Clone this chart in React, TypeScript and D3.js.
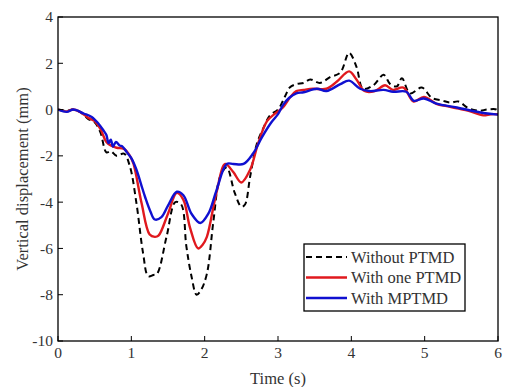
import * as d3 from 'd3';

// time (s) / vertical displacement (mm)
const tWithout = [0, 0.12, 0.2, 0.3, 0.41, 0.5, 0.58, 0.66, 0.72, 0.8, 0.9, 0.98, 1.07, 1.16, 1.23, 1.3, 1.35, 1.48, 1.6, 1.68, 1.75, 1.82, 1.89, 1.95, 2.03, 2.12, 2.21, 2.3, 2.41, 2.5, 2.55, 2.62, 2.71, 2.8, 2.89, 3.0, 3.1, 3.16, 3.25, 3.35, 3.44, 3.57, 3.71, 3.85, 3.97, 4.07, 4.16, 4.3, 4.44, 4.53, 4.62, 4.69, 4.8, 4.96, 5.1, 5.23, 5.35, 5.46, 5.6, 5.75, 5.85, 5.98, 6];
const vWithout = [0, -0.05, 0.0, -0.1, -0.4, -0.55, -1.0, -1.85, -1.8, -2.0, -1.9, -2.45, -4.05, -6.2, -7.2, -7.15, -7.1, -5.5, -4.0, -4.1, -5.9, -7.2, -8.0, -7.8, -7.1, -4.8, -2.9, -2.5, -3.6, -4.2, -4.1, -2.9, -1.5, -0.8, -0.25, 0.0, 0.6, 0.95, 1.1, 1.15, 1.3, 1.15, 1.4, 1.6, 2.45, 1.85, 0.9, 1.05, 1.5, 1.1, 1.0, 1.35, 0.7, 0.95, 0.5, 0.4, 0.3, 0.35, 0.05, -0.05, 0.0, 0.0, -0.1];

const tOne = [0, 0.12, 0.2, 0.3, 0.41, 0.5, 0.58, 0.66, 0.72, 0.8, 0.9, 0.98, 1.03, 1.14, 1.25, 1.32, 1.37, 1.5, 1.62, 1.71, 1.8, 1.91, 1.97, 2.03, 2.16, 2.28, 2.39, 2.5, 2.62, 2.73, 2.85, 2.95, 3.07, 3.17, 3.25, 3.35, 3.48, 3.66, 3.8, 3.97, 4.07, 4.18, 4.32, 4.46, 4.57, 4.71, 4.85, 4.99, 5.16, 5.3, 5.44, 5.6, 5.8, 5.9, 6];
const vOne = [0, -0.08, 0.0, -0.1, -0.35, -0.5, -0.85, -1.4, -1.55, -1.65, -1.7, -2.0, -2.35, -4.05, -5.4, -5.5, -5.45, -4.5, -3.6, -3.9, -5.1, -6.0, -5.85, -5.5, -3.6, -2.35, -2.7, -3.15, -2.6, -1.45, -0.5, -0.2, 0.1, 0.55, 0.8, 0.85, 0.9, 0.9, 1.2, 1.65, 1.3, 0.8, 0.8, 1.05, 0.85, 0.95, 0.35, 0.55, 0.25, 0.15, 0.05, -0.05, -0.25, -0.2, -0.2];

const tMulti = [0, 0.12, 0.21, 0.35, 0.46, 0.55, 0.62, 0.66, 0.69, 0.72, 0.75, 0.79, 0.84, 0.88, 0.94, 1.0, 1.07, 1.13, 1.19, 1.26, 1.32, 1.41, 1.5, 1.62, 1.71, 1.82, 1.94, 2.05, 2.16, 2.3, 2.39, 2.53, 2.66, 2.78, 2.91, 3.0, 3.07, 3.15, 3.25, 3.35, 3.53, 3.66, 3.85, 3.97, 4.12, 4.25, 4.44, 4.57, 4.75, 4.85, 4.99, 5.16, 5.44, 5.8, 6];
const vMulti = [0, -0.1, 0.0, -0.17, -0.32, -0.6, -0.9, -1.1, -1.45, -1.3, -1.6, -1.4, -1.55, -1.6, -1.85, -2.1, -2.6, -3.2, -3.8, -4.4, -4.75, -4.65, -4.15, -3.55, -3.7, -4.5, -4.9, -4.5, -3.5, -2.35, -2.35, -2.35, -1.9, -1.2, -0.55, -0.2, 0.2, 0.5, 0.7, 0.75, 0.9, 0.8, 1.1, 1.25, 0.9, 0.8, 0.85, 0.77, 0.77, 0.38, 0.48, 0.26, 0.09, -0.15, -0.22];

const xTicks = [0, 1, 2, 3, 4, 5, 6];
const yTicks = [4, 2, 0, -2, -4, -6, -8, -10];
const legendLabels = ['Without PTMD', 'With one PTMD', 'With MPTMD'];

const W = 505;
const H = 387;
const margin = { top: 17, right: 7, bottom: 46, left: 58 };
const font = "'Liberation Serif', 'Times New Roman', serif";

export default function App() {
  const innerW = W - margin.left - margin.right;
  const innerH = H - margin.top - margin.bottom;
  const x = d3.scaleLinear().domain([0, 6]).range([0, innerW]);
  const y = d3.scaleLinear().domain([-10, 4]).range([innerH, 0]);

  const line = d3
    .line<[number, number]>()
    .x((d) => x(d[0]))
    .y((d) => y(d[1]))
    .curve(d3.curveCatmullRom.alpha(0.5));

  const series = [
    { t: tWithout, v: vWithout, color: '#000', width: 2, dash: '6,4' },
    { t: tOne, v: vOne, color: '#e0191e', width: 2.4, dash: null },
    { t: tMulti, v: vMulti, color: '#1010d0', width: 2.4, dash: null },
  ];

  const legX = 304 - margin.left;
  const legY = 244 - margin.top;

  return (
    <svg
      width={W}
      height={H}
      style={{ position: 'absolute', left: 0, top: 0, background: '#fff', fontFamily: font }}
    >
      <defs>
        <clipPath id="plot-clip">
          <rect x={0} y={0} width={innerW} height={innerH} />
        </clipPath>
      </defs>
      <g transform={`translate(${margin.left},${margin.top})`}>
        <g clipPath="url(#plot-clip)">
          {series.map((s, i) => (
            <path
              key={i}
              d={line(s.t.map((t, j) => [t, s.v[j]] as [number, number])) || ''}
              fill="none"
              stroke={s.color}
              strokeWidth={s.width}
              strokeDasharray={s.dash || undefined}
              strokeLinejoin="round"
            />
          ))}
        </g>
        <rect x={0} y={0} width={innerW} height={innerH} fill="none" stroke="#000" strokeWidth={1.3} />
        {xTicks.map((t) => (
          <g key={t} transform={`translate(${x(t)},${innerH})`}>
            <line y2={-5} stroke="#000" />
            <text y={17} textAnchor="middle" fontSize={15.5} fill="#333">
              {t}
            </text>
          </g>
        ))}
        {yTicks.map((t) => (
          <g key={t} transform={`translate(0,${y(t)})`}>
            <line x2={5} stroke="#000" />
            <text x={-5} dy="0.35em" textAnchor="end" fontSize={15.5} fill="#333">
              {t}
            </text>
          </g>
        ))}
        <g transform={`translate(${legX},${legY})`}>
          <rect width={161} height={67} fill="#fff" stroke="#000" strokeWidth={1.3} />
          {legendLabels.map((lab, i) => (
            <g key={lab} transform={`translate(0,${13 + i * 20.5})`}>
              <line
                x1={2}
                x2={43}
                stroke={series[i].color}
                strokeWidth={series[i].width}
                strokeDasharray={series[i].dash || undefined}
              />
              <text x={47} dy="0.35em" fontSize={16.5} fill="#333">
                {lab}
              </text>
            </g>
          ))}
        </g>
      </g>
      <text
        transform={`translate(22,${margin.top + innerH / 2}) rotate(-90)`}
        textAnchor="middle"
        dy="0.35em"
        fontSize={16.5}
        fill="#333"
      >
        Vertical displacement (mm)
      </text>
      <text x={margin.left + innerW / 2} y={384} textAnchor="middle" fontSize={16.5} fill="#333">
        Time (s)
      </text>
    </svg>
  );
}
